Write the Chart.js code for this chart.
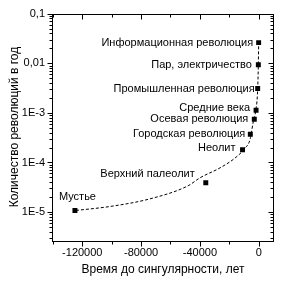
<!DOCTYPE html>
<html>
<head>
<meta charset="utf-8">
<script src="https://cdn.jsdelivr.net/npm/chart.js@4/dist/chart.umd.min.js"></script>
<style>
html,body{margin:0;padding:0;background:#fff;}
canvas{display:block;}
</style>
</head>
<body>
<canvas id="c" width="285" height="285"></canvas>
<script>
// ---- data ----
const labels = ['Мустье','Верхний палеолит','Неолит','Городская революция','Осевая революция','Средние века','Промышленная революция','Пар, электричество','Информационная революция'];
const timeToSingularity = [-125000, -36000, -11000, -5700, -3000, -1800, -700, -250, -50];
const revolutionsPerYear = [1.08e-5, 3.9e-5, 1.8e-4, 3.7e-4, 7.4e-4, 1.13e-3, 3.1e-3, 9.3e-3, 0.026];
const fitX = [-124300, -101000, -74000, -48000, -40000, -26300, -16100, -9300, -5900, -3700, -2000, -700, -270, -40];
const fitY = [1.08e-5, 1.30e-5, 1.85e-5, 3.4e-5, 4.9e-5, 7.8e-5, 1.23e-4, 1.95e-4, 2.9e-4, 6.6e-4, 1.12e-3, 3.0e-3, 8.9e-3, 0.025];
const xTickValues = [-120000, -80000, -40000, 0];
const xTickLabels = ['-120000', '-80000', '-40000', '0'];
const xMinorValues = [-140000, -100000, -60000, -20000];
const yTickValues = [0.1, 0.01, 1e-3, 1e-4, 1e-5];
const yTickLabels = ['0,1', '0,01', '1E-3', '1E-4', '1E-5'];
const xTitle = 'Время до сингулярности, лет';
const yTitle = 'Количество революций в год';

// ---- styles (label placement relative to its point, in px) ----
const labelStyle = [
  {dx: -16, dy: -13, align: 'left'},
  {dx: -11, dy: -9, align: 'right'},
  {dx: -7, dy: -2, align: 'right'},
  {dx: -5, dy: 0, align: 'right'},
  {dx: -6, dy: 0, align: 'right'},
  {dx: -6, dy: -2, align: 'right'},
  {dx: -3, dy: 0, align: 'right'},
  {dx: -6.5, dy: 0, align: 'right'},
  {dx: -5.5, dy: 0, align: 'right'}
];
const FONT = '"Liberation Sans", Arial, sans-serif';

const pointLabels = {
  id: 'pointLabels',
  afterDatasetsDraw(chart) {
    const meta = chart.getDatasetMeta(1);
    const ctx = chart.ctx;
    ctx.save();
    ctx.font = '11px ' + FONT;
    ctx.fillStyle = '#000';
    ctx.textBaseline = 'middle';
    meta.data.forEach((el, i) => {
      const s = labelStyle[i];
      ctx.textAlign = s.align;
      ctx.fillText(labels[i], el.x + s.dx, el.y + s.dy);
    });
    ctx.restore();
  }
};

const frame = {
  id: 'frame',
  afterDraw(chart) {
    const {ctx, chartArea: a, scales: {x, y}} = chart;
    ctx.save();
    ctx.strokeStyle = '#000';
    ctx.lineWidth = 1;
    ctx.strokeRect(Math.round(a.left) + 0.5, Math.round(a.top) + 0.5, Math.round(a.right - a.left) - 1, Math.round(a.bottom - a.top));
    const L = Math.round(a.left) + 0.5, R = Math.round(a.right) - 0.5, T = Math.round(a.top) + 0.5, B = Math.round(a.bottom) + 0.5;
    ctx.beginPath();
    const xt = (v, len) => {
      const px = Math.round(x.getPixelForValue(v)) + 0.5;
      ctx.moveTo(px, B); ctx.lineTo(px, B + len);
      ctx.moveTo(px, T); ctx.lineTo(px, T + len);
    };
    xTickValues.forEach(v => xt(v, 5));
    xMinorValues.forEach(v => xt(v, 3));
    const yt = (v, len) => {
      const py = Math.round(y.getPixelForValue(v)) + 0.5;
      if (py < T - 0.1 || py > B + 0.1) return;
      ctx.moveTo(L, py); ctx.lineTo(L - len, py);
      ctx.moveTo(R, py); ctx.lineTo(R - len, py);
    };
    for (let e = -6; e <= -1; e++) {
      for (let k = 1; k <= 9; k++) {
        const v = k * Math.pow(10, e);
        if (v < y.min || v > y.max * 1.0001) continue;
        yt(v, k === 1 ? 5 : 3);
      }
    }
    ctx.stroke();
    ctx.restore();
  }
};

new Chart(document.getElementById('c'), {
  data: {
    datasets: [
      {
        type: 'line',
        data: fitX.map((v, i) => ({x: v, y: fitY[i]})),
        borderColor: '#000',
        borderWidth: 1,
        borderDash: [3, 2],
        pointRadius: 0,
        fill: false,
        cubicInterpolationMode: 'monotone'
      },
      {
        type: 'scatter',
        data: timeToSingularity.map((v, i) => ({x: v, y: revolutionsPerYear[i]})),
        pointStyle: 'rect',
        pointRadius: 3.5,
        backgroundColor: '#000',
        borderColor: '#000',
        borderWidth: 0
      }
    ]
  },
  options: {
    responsive: false,
    devicePixelRatio: 1,
    animation: false,
    layout: {padding: {top: 10, right: 11, left: 0, bottom: 0}},
    plugins: {legend: {display: false}, tooltip: {enabled: false}},
    scales: {
      x: {
        type: 'linear',
        min: -140600,
        max: 10400,
        grid: {display: false, drawTicks: false},
        border: {display: false},
        afterBuildTicks(s) { s.ticks = xTickValues.map(v => ({value: v})); },
        afterFit(s) { s.height = 44.5; },
        ticks: {
          autoSkip: false, maxRotation: 0, padding: 6, color: '#000',
          font: {family: FONT, size: 11},
          callback: (v) => { const i = xTickValues.indexOf(v); return i >= 0 ? xTickLabels[i] : ''; }
        },
        title: {display: true, text: xTitle, color: '#000', font: {family: FONT, size: 12}, padding: {top: 0, bottom: 8}}
      },
      y: {
        type: 'logarithmic',
        min: 2.68e-6,
        max: 0.1,
        grid: {display: false, drawTicks: false},
        border: {display: false},
        afterBuildTicks(s) { s.ticks = yTickValues.map(v => ({value: v})); },
        afterFit(s) { s.width = 52; },
        ticks: {
          autoSkip: false, padding: 7, color: '#000',
          font: {family: FONT, size: 11},
          callback: (v) => { const i = yTickValues.findIndex(t => Math.abs(t - v) / t < 1e-6); return i >= 0 ? yTickLabels[i] : ''; }
        },
        title: {display: true, text: yTitle, color: '#000', font: {family: FONT, size: 12}, padding: {top: 7, bottom: 0}}
      }
    }
  },
  plugins: [pointLabels, frame]
});
</script>
</body>
</html>
